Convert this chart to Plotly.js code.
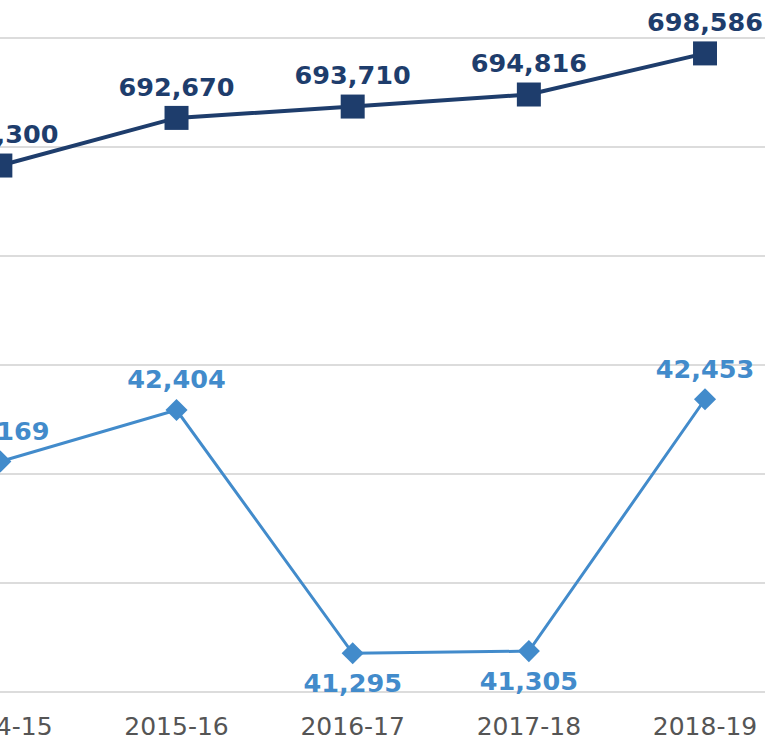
<!DOCTYPE html>
<html>
<head>
<meta charset="utf-8">
<script src="https://cdn.plot.ly/plotly-3.0.1.min.js"></script>
<style>html,body{margin:0;padding:0;background:#fff;}#chart{width:765px;height:740px;}</style>
</head>
<body>
<div id="chart"></div>
<script>
// ---- data ----
const years = ["2014-15", "2015-16", "2016-17", "2017-18", "2018-19"];
const upperValues = [688300, 692670, 693710, 694816, 698586];
const lowerValues = [42169, 42404, 41295, 41305, 42453];
const lowerLabelPositions = ["top center", "top center", "bottom center", "bottom center", "top center"];

// ---- style ----
const NAVY = "#1e3d6c";
const BLUE = "#428bcb";
const LABEL_FONT = "DejaVu Sans, Arial, sans-serif";

const traces = [
  {
    x: years, y: upperValues, yaxis: "y",
    mode: "lines+markers+text",
    line: {color: NAVY, width: 4},
    marker: {symbol: "square", size: 24, color: NAVY},
    texttemplate: "%{y:,}", textposition: "top center",
    textfont: {family: LABEL_FONT, size: 25.5, color: NAVY, weight: "bold"},
    cliponaxis: false, hoverinfo: "skip"
  },
  {
    x: years, y: lowerValues, yaxis: "y2",
    mode: "lines+markers",
    line: {color: BLUE, width: 3},
    marker: {symbol: "diamond", size: 17, color: BLUE},
    cliponaxis: false, hoverinfo: "skip"
  },
  {
    x: years, y: lowerValues, yaxis: "y2",
    mode: "markers+text",
    marker: {size: lowerLabelPositions.map(p => p.startsWith("top") ? 23 : 30), opacity: 0},
    texttemplate: "%{y:,}", textposition: lowerLabelPositions,
    textfont: {family: LABEL_FONT, size: 25.5, color: BLUE, weight: "bold"},
    cliponaxis: false, hoverinfo: "skip"
  }
];

const layout = {
  width: 765, height: 740,
  margin: {l: 0, r: 0, t: 30, b: 45, pad: 0},
  paper_bgcolor: "#ffffff", plot_bgcolor: "#ffffff",
  showlegend: false,
  xaxis: {
    type: "category",
    range: [-0.002, 4.3404],
    showgrid: false, zeroline: false, showline: false, ticks: "",
    tickfont: {family: LABEL_FONT, size: 25, color: "#555555"},
    ticklabelstandoff: 14
  },
  yaxis: {
    range: [639725, 700734],
    tick0: 0, dtick: 10000,
    showgrid: true, gridcolor: "#dcdcdc", gridwidth: 1.5,
    zeroline: false, showline: false, showticklabels: false, ticks: ""
  },
  yaxis2: {
    overlaying: "y",
    range: [41105, 44136],
    showgrid: false, zeroline: false, showline: false, showticklabels: false, ticks: ""
  }
};

Plotly.newPlot("chart", traces, layout, {staticPlot: true, displayModeBar: false});
</script>
</body>
</html>
